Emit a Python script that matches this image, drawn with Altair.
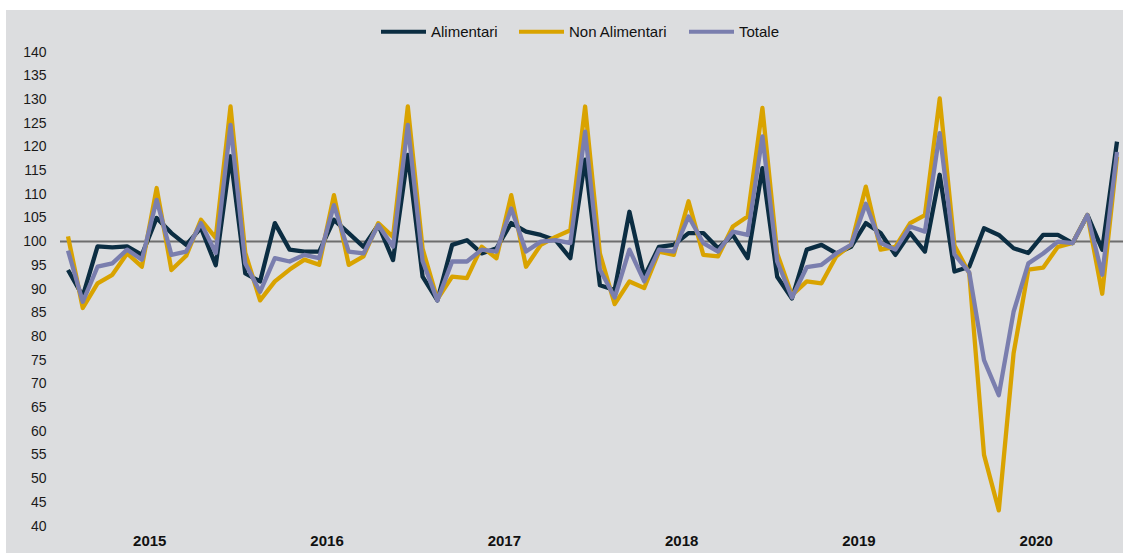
import altair as alt
import pandas as pd

# Monthly index, Jan 2015 - Dec 2020
years = [2015, 2016, 2017, 2018, 2019, 2020]
series_names = ["Alimentari", "Non Alimentari", "Totale"]
series_colors = ["#0b2d42", "#d9a300", "#7a7eae"]

alimentari = [
    94.0, 88.5, 99.0, 98.8, 99.0, 97.2, 105.0, 101.8, 99.3, 102.9, 95.0, 118.0,
    93.3, 91.6, 103.9, 98.3, 97.9, 97.9, 104.6, 101.8, 98.9, 103.5, 96.1, 118.3,
    92.6, 87.6, 99.3, 100.3, 97.5, 98.6, 103.9, 102.1, 101.4, 100.3, 96.5, 117.3,
    90.8, 89.8, 106.3, 92.6, 98.9, 99.3, 101.8, 101.8, 98.6, 101.4, 96.5, 115.5,
    92.6, 88.0, 98.3, 99.3, 97.5, 98.9, 103.9, 101.8, 97.2, 101.8, 97.9, 114.1,
    93.7, 94.7, 102.8, 101.4, 98.6, 97.6, 101.4, 101.4, 99.7, 105.6, 98.3, 121.1,
]
non_alimentari = [
    101.1, 86.0, 91.2, 93.0, 97.5, 94.7, 111.3, 94.0, 97.0, 104.6, 100.8, 128.5,
    97.6, 87.6, 91.6, 94.1, 96.2, 95.1, 109.8, 95.1, 96.9, 103.9, 101.0, 128.5,
    98.5, 87.8, 92.6, 92.3, 98.9, 96.5, 109.8, 94.7, 99.3, 101.0, 102.4, 128.5,
    97.5, 86.8, 91.6, 90.2, 97.9, 97.2, 108.5, 97.2, 96.9, 103.2, 105.3, 128.2,
    97.5, 88.7, 91.6, 91.2, 96.9, 99.3, 111.6, 98.3, 98.9, 103.9, 105.6, 130.2,
    99.2, 93.3, 55.0, 43.3, 76.4, 94.1, 94.5, 98.9, 99.7, 105.6, 89.0, 117.9,
]
totale = [
    98.1, 87.3, 94.7, 95.4, 98.3, 96.2, 108.8, 97.2, 97.9, 103.9, 97.6, 124.6,
    95.4, 89.4, 96.5, 95.8, 97.2, 96.5, 107.7, 97.9, 97.5, 103.5, 98.9, 124.6,
    95.9, 87.6, 95.8, 95.8, 98.3, 97.9, 107.0, 97.9, 100.0, 100.3, 99.7, 123.2,
    94.1, 88.2, 98.3, 91.6, 98.3, 97.9, 105.3, 99.7, 97.9, 102.1, 101.4, 122.2,
    95.8, 88.2, 94.6, 95.1, 97.5, 99.3, 108.0, 99.7, 98.3, 103.2, 102.1, 122.9,
    97.3, 93.5, 75.0, 67.6, 85.2, 95.4, 97.5, 100.0, 99.7, 105.6, 93.0, 118.9,
]
baseline = [100]
y_ticks = list(range(40, 145, 5))

rows = []
for name, vals in zip(series_names, [alimentari, non_alimentari, totale]):
    for i, v in enumerate(vals):
        rows.append({"idx": i, "serie": name, "value": v})
df = pd.DataFrame(rows)

n_months = len(alimentari)
year_centers = [12 * k + 5.5 for k in range(len(years))]

W, H = 1049, 474

x_enc = alt.X(
    "idx:Q",
    scale=alt.Scale(domain=[0, n_months - 1], nice=False, zero=False),
    axis=alt.Axis(
        values=year_centers,
        labelExpr=f"'' + ({years[0]} + floor(datum.value / 12))",
        title=None, grid=False, ticks=False, domain=False,
        labelFontWeight="bold", labelFontSize=15, labelColor="#111111",
        labelPadding=7, zindex=2,
    ),
)
y_enc = alt.Y(
    "value:Q",
    scale=alt.Scale(domain=[40, 140], nice=False, zero=False),
    axis=alt.Axis(
        values=y_ticks, title=None, grid=False, ticks=False, domain=False,
        labelFontSize=14, labelColor="#1a1a1a", labelPadding=22, zindex=2,
    ),
)

# grey panel behind everything
panel = alt.Chart(pd.DataFrame({"p": [0]})).mark_rect(color="#dcdddf").encode(
    x=alt.value(-62), x2=alt.value(W + 6), y=alt.value(-42), y2=alt.value(H + 27)
)

ref = alt.Chart(pd.DataFrame({"value": baseline})).mark_rule(
    color="#6d6d6d", strokeWidth=2
).encode(y=y_enc, x=alt.value(-8), x2=alt.value(W + 6))

lines = alt.Chart(df).mark_line(strokeWidth=4.3, strokeJoin="round").encode(
    x=x_enc,
    y=y_enc,
    color=alt.Color(
        "serie:N",
        scale=alt.Scale(domain=series_names, range=series_colors),
        legend=alt.Legend(
            title=None, orient="none", legendX=311, legendY=-45,
            direction="horizontal", symbolType="stroke", symbolSize=2025,
            symbolStrokeWidth=4, labelFontSize=15, labelOffset=3,
            columnPadding=13, labelColor="#111111",
        ),
    ),
    order=alt.Order("idx:Q"),
)

chart = alt.layer(panel, ref, lines).properties(
    width=W,
    height=H,
    padding={"left": 68, "top": 52, "right": 8, "bottom": 27},
    autosize=alt.AutoSizeParams(type="none"),
    background="white",
).configure(font="Liberation Sans").configure_view(stroke=None)

chart.save("out.html", embed_options={"renderer": "svg", "actions": False})
